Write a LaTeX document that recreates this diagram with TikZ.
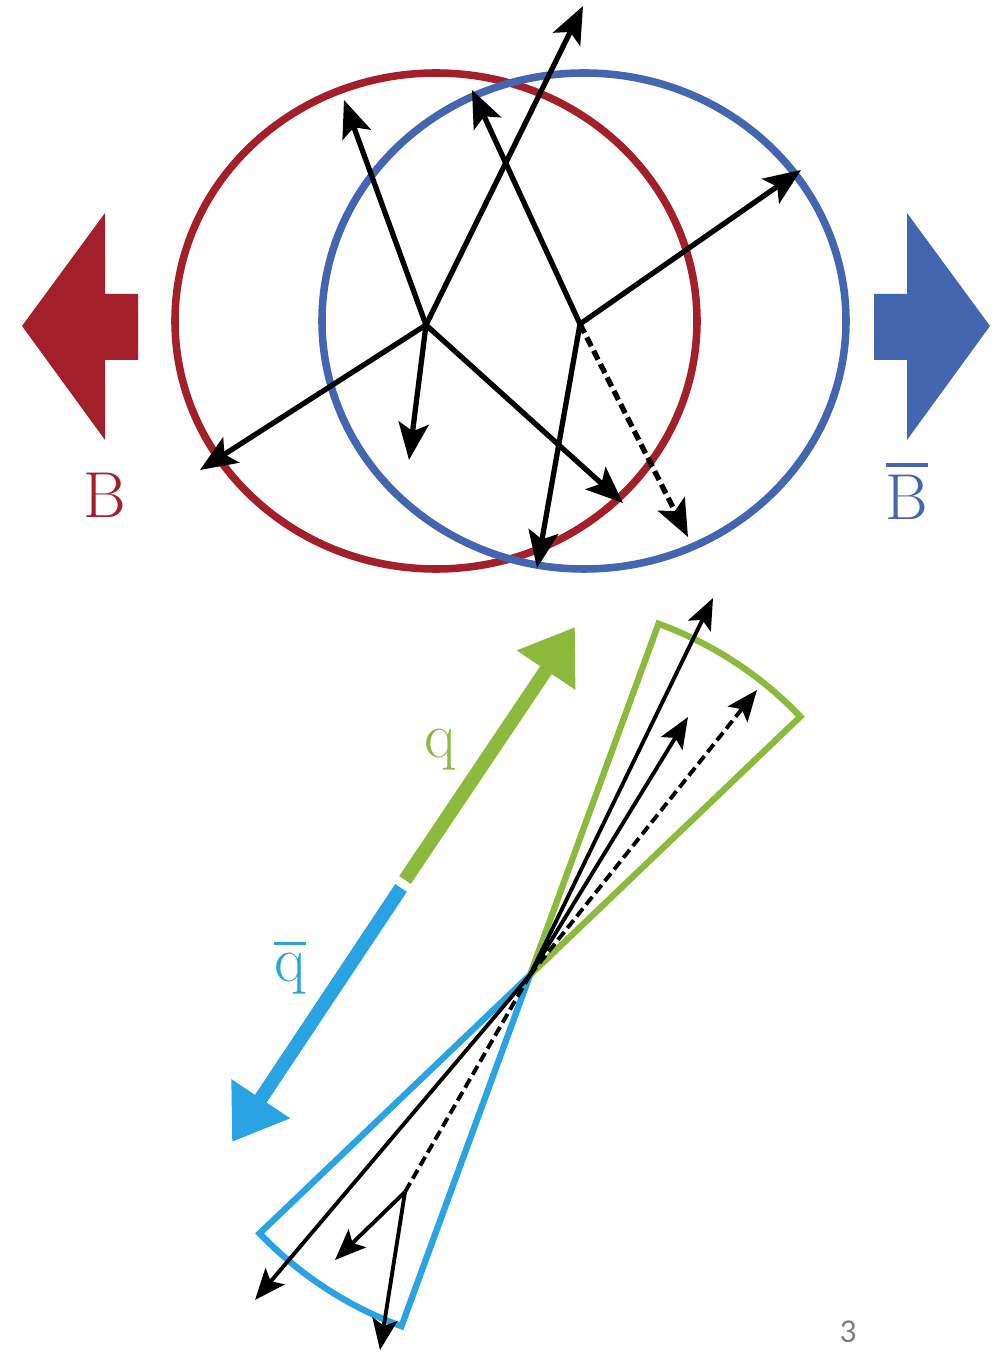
\documentclass[tikz,border=0pt]{standalone}
\usepackage{fontspec}
\usetikzlibrary{arrows.meta}
\newfontfamily\slidefont{Carlito}
\newcommand\barred[1]{\vbox{\hrule height 0.06em \kern 0.12em\hbox{#1}}}
\definecolor{bred}{HTML}{A3202A}
\definecolor{bblue}{HTML}{4466B0}
\definecolor{qgreen}{HTML}{8BBA3C}
\definecolor{qblue}{HTML}{29A3E1}
\definecolor{pgrey}{HTML}{7F7F7F}

\begin{document}
\begin{tikzpicture}[x=0.02cm,y=0.02cm,
  ring/.style={line width=4.3pt},
  track/.style={line width=3pt,-{Stealth[length=0.74cm,width=0.6cm,inset=0.16cm]}},
  jet/.style={line width=2.2pt,-{Stealth[length=0.62cm,width=0.5cm,inset=0.13cm]}},
  neutral/.style={dash pattern=on 0.2cm off 0.1cm},
  cone/.style={line width=3.6pt,line join=miter},
  quark/.style={line width=0.28cm,-{Triangle[length=1.04cm,width=1.34cm]}},
  lbl/.style={font=\fontsize{37}{40}\selectfont,inner sep=0pt}]
\useasboundingbox (0,0) rectangle (999,1353);

% the two B mesons
\draw[ring,bred] (436,1032) ellipse [x radius=261, y radius=248];
\draw[ring,bblue] (584,1032) ellipse [x radius=262, y radius=248];
\fill[bred] (22,1027) -- (105,1140) -- (105,1059) -- (138,1059) -- (138,993)
  -- (105,993) -- (105,913) -- cycle;
\fill[bblue] (990,1027) -- (907,1140) -- (907,1059) -- (874,1059) -- (874,993)
  -- (907,993) -- (907,913) -- cycle;
\node[lbl,text=bred] (lB) at (105,858) {B};
\node[lbl,text=bblue] (lBbar) at (907,862) {\barred{B}};

% decay products
\coordinate (vA) at (426,1028);
\coordinate (vC) at (580,1029);
\coordinate (tA1) at (344,1253);
\coordinate (tA2) at (583,1347);
\coordinate (tA3) at (200,883);
\coordinate (tA4) at (409,893);
\coordinate (tA5) at (623,850);
\coordinate (tC1) at (472,1263);
\coordinate (tC2) at (801,1183);
\coordinate (tC3) at (537,785);
\coordinate (tC4) at (688,816);
\foreach \t in {tA1,tA2,tA3,tA4,tA5}
  \draw[track] (vA) -- (\t);
\foreach \t in {tC1,tC2,tC3}
  \draw[track] (vC) -- (\t);
\draw[track,neutral] (vC) -- (tC4);

% quark pair and jets
\coordinate (vO) at (530,378);
\draw[cone,qgreen] (vO) -- ++(43.7:374) arc[start angle=43.7, end angle=69.9, radius=374] -- cycle;
\draw[cone,qblue] (vO) -- ++(223.7:374) arc[start angle=223.7, end angle=249.9, radius=374] -- cycle;
\coordinate (qs) at (405,473);
\coordinate (qt) at (575,726);
\coordinate (qbs) at (401,465);
\coordinate (qbt) at (232,211);
\draw[quark,qgreen] (qs) -- (qt);
\draw[quark,qblue] (qbs) -- (qbt);
\node[lbl,text=qgreen] (lq) at (440,603) {q};
\node[lbl,text=qblue] (lqbar) at (290,385) {\barred{q}};

\coordinate (gt1) at (713,755);
\coordinate (gt2) at (688,636);
\coordinate (gt3) at (757,663);
\coordinate (bt1) at (255,53);
\coordinate (vD) at (405,161);
\coordinate (bt2) at (335,93);
\coordinate (bt3) at (380,3);
\draw[jet] (vO) -- (gt1);
\draw[jet] (vO) -- (gt2);
\draw[jet,neutral] (vO) -- (gt3);
\draw[jet] (vO) -- (bt1);
\draw[line width=2.2pt,neutral] (vO) -- (vD);
\draw[jet] (vD) -- (bt2);
\draw[jet] (vD) -- (bt3);

\node[font=\slidefont\fontsize{19}{20}\selectfont,text=pgrey,inner sep=0pt] (pnum) at (848,21) {3};
\end{tikzpicture}
\end{document}
